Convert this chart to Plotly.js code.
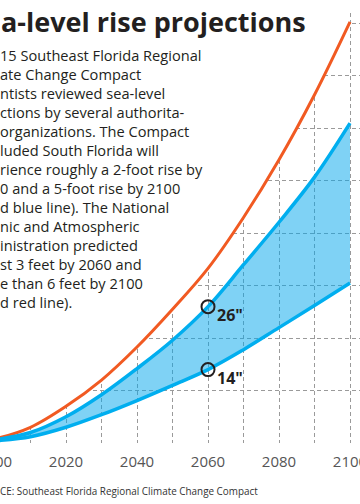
<!DOCTYPE html>
<html>
<head>
<meta charset="utf-8">
<script src="https://cdn.plot.ly/plotly-3.0.1.min.js"></script>
<style>
html,body{margin:0;padding:0;width:360px;height:504px;overflow:hidden;background:#fff;}
#chart{position:absolute;left:-100px;top:0;width:480px;height:504px;}
</style>
</head>
<body>
<div id="chart"></div>
<script>
// ---- data (inches of sea-level rise, relative to 1992) ----
const years     = [1992, 2000, 2010, 2020, 2030, 2040, 2050, 2060, 2070, 2080, 2090, 2100];
const noaaHigh  = [0, 0.8, 3.0, 7.0, 12.0, 18.3, 25.5, 33.3, 43.0, 54.0, 66.4, 80.3];
const usaceHigh = [0, 0.6, 2.0, 5.0, 9.2, 14.2, 19.6, 26.0, 34.0, 42.1, 50.7, 61.0];
const ipccMed   = [0, 0.4, 1.2, 3.0, 5.4, 8.1, 11.0, 14.0, 17.8, 22.0, 26.2, 30.5];

const markerYears  = [2060, 2060];
const markerValues = [26, 14];
const markerLabels = ['26"', '14"'];

const tickVals  = [2000, 2010, 2020, 2030, 2040, 2050, 2060, 2070, 2080, 2090, 2100];
const tickTexts = ['2000', '', '2020', '', '2040', '', '2060', '', '2080', '', '2100'];

const titleText = 'a-level rise projections';
const bodyLines = [
  '15 Southeast Florida Regional',
  'ate Change Compact',
  'ntists reviewed sea-level',
  'ctions by several authorita-',
  'organizations. The Compact',
  'luded South Florida will',
  'rience roughly a 2-foot rise by',
  '0 and a 5-foot rise by 2100',
  'd blue line). The National',
  'nic and Atmospheric',
  'inistration predicted',
  'st 3 feet by 2060 and',
  'e than 6 feet by 2100',
  'd red line).'
];
const sourceText = 'CE: Southeast Florida Regional Climate Change Compact';

// ---- layout helpers (viewport px -> paper) ----
const plotLeft = -40, plotWidth = 410, plotBottom = 443, plotHeight = 430;
const xp = v => (v - plotLeft) / plotWidth;
const yp = v => (plotBottom - v) / plotHeight;
const yTop = 82;

const ORANGE = '#f15a22';
const BLUE = '#00aeef';
const INK = '#231f20';

const traces = [
  {x: years, y: noaaHigh, mode: 'lines', line: {color: ORANGE, width: 3, shape: 'spline'}, hoverinfo: 'skip'},
  // white mask above the NOAA curve (hides the grid there)
  {x: years, y: years.map(() => yTop + 20), mode: 'lines', line: {width: 0, shape: 'spline'},
   fill: 'tonexty', fillcolor: '#ffffff', hoverinfo: 'skip'},
  {x: years, y: ipccMed, mode: 'lines', line: {color: BLUE, width: 3.5, shape: 'spline'}, hoverinfo: 'skip'},
  {x: years, y: usaceHigh, mode: 'lines', line: {color: BLUE, width: 3.5, shape: 'spline'},
   fill: 'tonexty', fillcolor: 'rgba(0,165,235,0.5)', hoverinfo: 'skip'},
  {x: markerYears, y: markerValues, mode: 'markers',
   marker: {symbol: 'circle-open', size: 13, color: INK, line: {width: 2, color: INK}}, hoverinfo: 'skip'}
];

const annotations = [];
annotations.push({xref: 'paper', yref: 'paper', x: xp(-1), y: yp(21), xanchor: 'left', yanchor: 'middle',
  text: titleText, showarrow: false, font: {family: 'Open Sans', size: 27, weight: 700, color: INK}});
annotations.push({xref: 'paper', yref: 'paper', x: xp(-1), y: yp(178), xanchor: 'left', yanchor: 'middle',
  align: 'left', borderpad: 0, text: bodyLines.join('<br>'), showarrow: false,
  font: {family: 'Open Sans', size: 14.6, color: INK}});
annotations.push({xref: 'paper', yref: 'paper', x: xp(-2), y: yp(491), xanchor: 'left', yanchor: 'middle',
  text: sourceText, showarrow: false, font: {family: 'Open Sans', size: 9.9, color: '#333'}});
markerYears.forEach((yr, i) => {
  annotations.push({x: yr, y: markerValues[i], xref: 'x', yref: 'y', xanchor: 'left', yanchor: 'middle',
    xshift: 7, yshift: -8, text: markerLabels[i], showarrow: false,
    font: {family: 'Open Sans', size: 16, weight: 700, color: INK}});
});

const layout = {
  width: 480, height: 504,
  margin: {l: 60, r: 10, t: 13, b: 61, pad: 0},
  paper_bgcolor: '#fff', plot_bgcolor: '#fff',
  showlegend: false,
  xaxis: {range: [1990.14, 2105.63], tickmode: 'array', tickvals: tickVals, ticktext: tickTexts,
    showgrid: true, gridcolor: '#9a9a9a', gridwidth: 1, griddash: '4px,3px', zeroline: false, showline: false,
    ticks: '', ticklen: 0, ticklabelstandoff: 8,
    tickfont: {family: 'Open Sans', size: 15, color: '#555'}, fixedrange: true},
  yaxis: {range: [0, yTop], dtick: 10, tick0: 0, showgrid: true, gridcolor: '#9a9a9a', gridwidth: 1,
    griddash: '4px,3px', zeroline: false, showline: false, showticklabels: false, ticks: '', fixedrange: true},
  annotations: annotations
};

Plotly.newPlot('chart', traces, layout, {displayModeBar: false, staticPlot: true});
</script>
</body>
</html>
